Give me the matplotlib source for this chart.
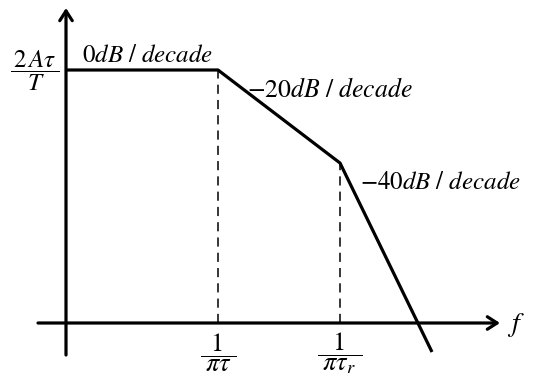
import matplotlib.pyplot as plt

plt.rcParams['mathtext.fontset'] = 'stix'
plt.rcParams['font.family'] = ['Liberation Serif', 'DejaVu Serif']

# asymptotic gain curve: corner positions and levels
corner_f = [0, 152, 274, 366]
gain = [253, 253, 160, -29]
corner_labels = [r'$\dfrac{\;1\;}{\;\pi\tau\;}$', r'$\dfrac{\;1\;}{\;\pi\tau_r\;}$']
slope_labels = [r'$0dB\ /\ decade$', r'$-20dB\ /\ decade$', r'$-40dB\ /\ decade$']
level_label = r'$\dfrac{\,2\,A\tau\,}{T}$'

fig = plt.figure(figsize=(5.51, 3.8), dpi=100)
ax = fig.add_axes([0, 0, 1, 1])
ax.set_xlim(-66, 485)
ax.set_ylim(-57, 323)
ax.axis('off')

lw = 2.3
arrow = dict(arrowstyle='->,head_length=0.7,head_width=0.45', lw=lw, color='black',
             shrinkA=0, shrinkB=0)
# axes
ax.annotate('', xy=(0, 315), xytext=(0, -32), arrowprops=arrow)
ax.annotate('', xy=(434, 0), xytext=(-28, 0), arrowprops=arrow)
ax.text(441, -2, r'$f$', fontsize=20, ha='left', va='center')

# gain curve
ax.plot(corner_f, gain, color='black', lw=lw, solid_capstyle='butt')

# dashed guides at the corner frequencies
for f, g, lab in zip(corner_f[1:3], gain[1:3], corner_labels):
    ax.plot([f, f], [0, g], color='black', lw=1.1, ls=(0, (6, 4)))
    ax.text(f, -30, lab, fontsize=19, ha='center', va='center')

ax.text(-31, 252, level_label, fontsize=18, ha='center', va='center')

ax.text(16, 261, slope_labels[0], fontsize=18, ha='left', va='baseline')
ax.text(181, 233, slope_labels[1], fontsize=18.5, ha='left', va='center')
ax.text(294, 140, slope_labels[2], fontsize=18, ha='left', va='center')

fig.savefig('out.png', dpi=100)
